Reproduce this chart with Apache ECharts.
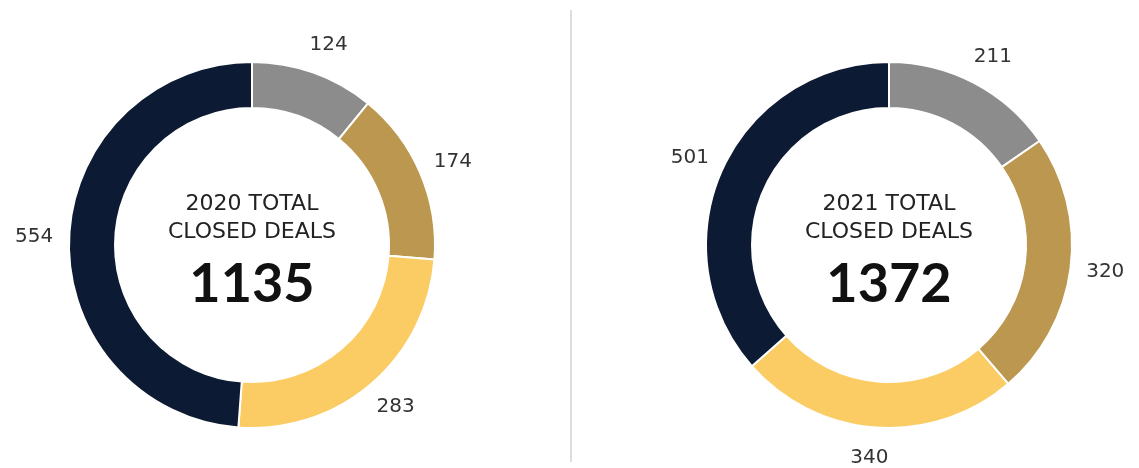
<!DOCTYPE html>
<html lang="en">
  <head>
    <meta charset="UTF-8" />
    <script src="https://cdn.jsdelivr.net/npm/echarts@6/dist/echarts.min.js"></script>
    <title>Closed deals</title>
    <style>
      html,
      body,
      #main {
        width: 100%;
        height: 100%;
        margin: 0;
        padding: 0;
        overflow: hidden;
        background: #fff;
      }
    </style>
  </head>
  <body>
    <div id="main"></div>
    <script>
      const categories = ["A", "B", "C", "D"];
      const years = ["2020", "2021"];
      const values2020 = [124, 174, 283, 554];
      const values2021 = [211, 320, 340, 501];
      const totals = [1135, 1372];
      const colors = ["#8c8c8c", "#bb9750", "#fbcb64", "#0c1a33"];

      const chart = echarts.init(document.getElementById("main"));

      function donut(values, center) {
        return {
          type: "pie",
          center: center,
          radius: [137, 183],
          startAngle: 90,
          clockwise: true,
          silent: true,
          avoidLabelOverlap: false,
          itemStyle: { borderColor: "#fff", borderWidth: 2 },
          label: {
            show: true,
            position: "outside",
            formatter: "{c}",
            color: "#333",
            fontSize: 20,
            fontFamily: "DejaVu Sans",
          },
          labelLine: { show: false, length: 30, length2: 0 },
          // centre each value on the end of its (hidden) label line
          labelLayout: function () {
            return { align: "center", verticalAlign: "middle" };
          },
          data: values.map((v, i) => ({
            name: categories[i],
            value: v,
            itemStyle: { color: colors[i] },
          })),
        };
      }

      function centerTitle(i, x) {
        return {
          text: years[i] + " TOTAL\nCLOSED DEALS",
          subtext: String(totals[i]),
          left: x,
          top: 190,
          padding: 0,
          textAlign: "center",
          itemGap: 12,
          textStyle: {
            fontFamily: "DejaVu Sans",
            fontWeight: "normal",
            fontSize: 22,
            lineHeight: 28,
            color: "#222",
          },
          subtextStyle: {
            fontFamily: "Lato",
            fontWeight: "bold",
            fontSize: 54,
            color: "#111",
          },
        };
      }

      chart.setOption({
        animation: false,
        title: [centerTitle(0, 252), centerTitle(1, 889)],
        graphic: [
          {
            type: "line",
            shape: { x1: 571, y1: 10, x2: 571, y2: 462 },
            style: { stroke: "#dddddd", lineWidth: 2 },
          },
        ],
        series: [donut(values2020, [252, 245]), donut(values2021, [889, 245])],
      });
    </script>
  </body>
</html>
